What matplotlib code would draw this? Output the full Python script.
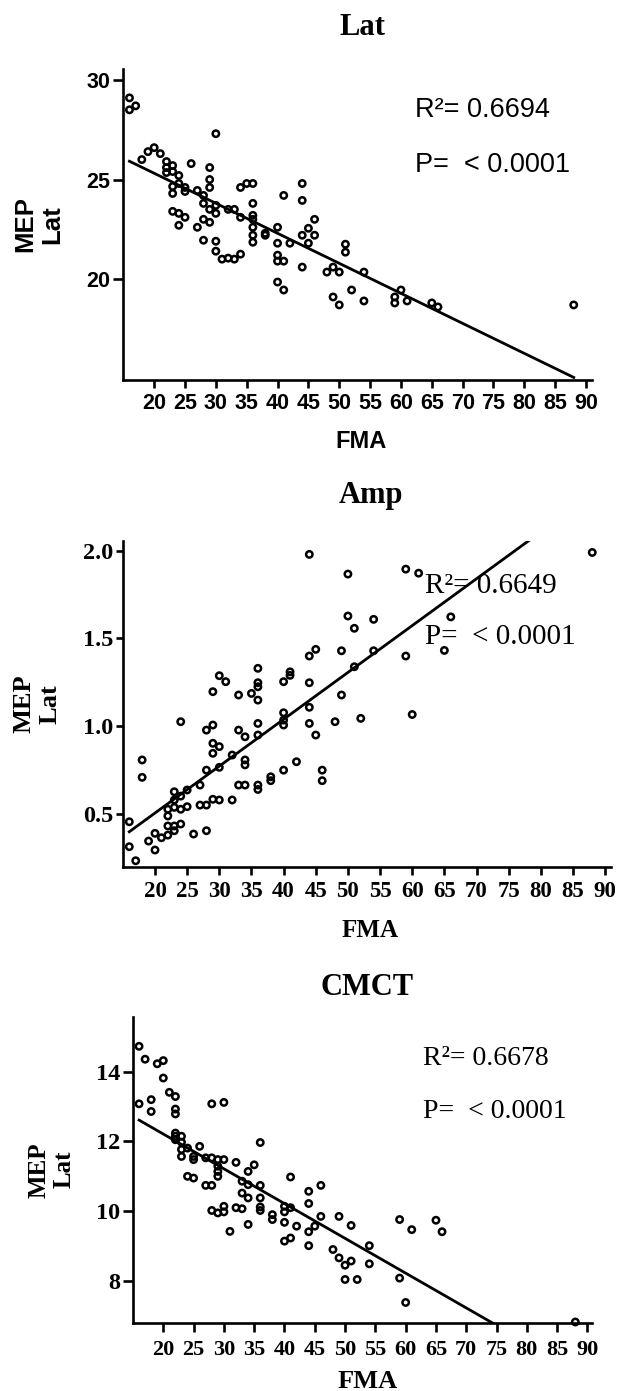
import matplotlib.pyplot as plt
import numpy as np

W, H = 619, 1391

# ---- Lat panel ----
FMA_1 = [16, 16, 17, 18, 19, 20, 21,
         22, 22, 22, 23, 23, 23, 23, 23, 24, 24, 24, 24, 25, 25, 25, 26, 27, 27,
         28, 28, 28, 28, 29, 29, 29, 29, 29, 30, 30, 30, 30, 30, 31, 32, 32, 33, 33,
         34, 34, 34, 35, 36, 36, 36, 36, 36, 36, 36, 38, 38, 40, 40, 40, 40, 40,
         41, 41, 41, 42, 44, 44, 44, 44, 45, 45, 46, 46, 48, 49, 49, 50, 50, 51, 51,
         52, 54, 54, 59, 59, 60, 61, 65, 66, 88]
LAT = [29.1, 28.5, 28.7, 26.0, 26.4, 26.6, 26.3,
       25.9, 25.6, 25.35, 25.7, 25.4, 24.65, 24.3, 23.4, 25.2, 24.8, 23.3, 22.7,
       24.6, 24.4, 23.1, 25.8, 24.45, 22.6,
       24.2, 23.8, 23.0, 21.95, 25.6, 25.0, 24.6, 23.5, 22.85, 27.3, 23.7, 23.3, 21.9, 21.4,
       21.0, 23.5, 21.05, 23.5, 21.0,
       24.6, 23.1, 21.25, 24.8, 24.8, 23.8, 23.2, 23.0, 22.6, 22.2, 21.85, 22.3, 22.2,
       22.6, 21.8, 21.2, 20.9, 19.85,
       24.2, 20.9, 19.45, 21.8, 24.8, 23.95, 22.2, 20.6, 22.55, 21.8, 23.0, 22.2,
       20.35, 20.6, 19.1, 20.35, 18.7, 21.75, 21.35,
       19.45, 20.35, 18.9, 19.1, 18.8, 19.45, 18.9, 18.8, 18.6, 18.7]
LAT_FIT = (-0.1508, 28.33)  # slope, intercept

# ---- Amp panel ----
FMA_2 = [16, 16, 17, 18, 18, 19, 20, 20, 21,
         22, 22, 22, 22, 23, 23, 23, 23, 23, 24, 24, 24, 24, 25, 25, 26, 27, 27,
         28, 28, 28, 28, 29, 29, 29, 29, 29, 30, 30, 30, 30, 31, 32, 32, 33, 33, 33,
         34, 34, 34, 34, 35, 36, 36, 36, 36, 36, 36, 36, 36, 38, 38,
         40, 40, 40, 40, 40, 41, 41, 42, 44, 44, 44, 44, 44, 45, 45, 46, 46, 48,
         49, 49, 50, 50, 51, 51, 52, 54, 54, 59, 59, 60, 61, 65, 66, 88]
AMP = [0.456, 0.314, 0.234, 0.808, 0.709, 0.346, 0.39, 0.295, 0.365,
       0.527, 0.489, 0.432, 0.38, 0.627, 0.58, 0.538, 0.432, 0.405, 1.026, 0.602, 0.527, 0.443,
       0.637, 0.542, 0.386, 0.665, 0.551,
       0.978, 0.75, 0.551, 0.405, 1.197, 1.007, 0.903, 0.846, 0.584, 1.288, 0.884, 0.766, 0.58,
       1.254, 0.836, 0.58, 1.178, 0.978, 0.665,
       0.94, 0.808, 0.78, 0.665, 1.187, 1.33, 1.248, 1.225, 1.149, 1.016, 0.95, 0.665, 0.64,
       0.712, 0.69,
       1.254, 1.077, 1.035, 1.007, 0.75, 1.31, 1.29, 0.798, 1.979, 1.40, 1.248, 1.108, 1.016,
       1.438, 0.95, 0.75, 0.69, 1.026,
       1.43, 1.178, 1.867, 1.628, 1.558, 1.339, 1.045, 1.609, 1.43, 1.895, 1.40, 1.067, 1.872,
       1.432, 1.623, 1.99]
AMP_FIT = (0.02669, -0.028)

# ---- CMCT panel ----
FMA_3 = [16, 16, 17, 18, 18, 19, 20, 20, 21,
         22, 22, 22, 22, 22, 22, 23, 23, 23, 23, 24, 24, 25, 25, 25, 26, 27, 27,
         28, 28, 28, 28, 29, 29, 29, 29, 29, 30, 30, 30, 30, 31, 32, 32, 33, 33, 33,
         34, 34, 34, 34, 35, 36, 36, 36, 36, 36, 38, 38, 40, 40, 40, 40, 41, 41, 41,
         42, 44, 44, 44, 44, 45, 46, 46, 48, 49, 49, 50, 50, 51, 51, 52, 54, 54,
         59, 59, 60, 61, 65, 66, 88]
CMCT = [14.73, 13.08, 14.36, 13.2, 12.86, 14.23, 14.32, 13.82, 13.41,
        13.29, 12.93, 12.79, 12.24, 12.15, 12.05, 12.15, 11.98, 11.77, 11.57, 11.81, 11.0,
        11.57, 11.48, 10.95, 11.86, 11.53, 10.74,
        13.08, 11.53, 10.74, 10.02, 11.48, 11.29, 11.14, 11.0, 9.95, 13.12, 11.48, 10.14, 9.98,
        9.42, 11.4, 10.1, 10.86, 10.52, 10.07,
        11.14, 10.76, 10.38, 9.62, 11.33, 11.97, 10.74, 10.38, 10.12, 10.02, 9.9, 9.76,
        10.14, 9.98, 9.68, 9.14, 10.98, 10.1, 9.23,
        9.57, 10.57, 10.22, 9.41, 9.01, 9.57, 10.74, 9.85, 8.9, 9.85, 8.66, 8.45, 8.04,
        9.59, 8.57, 8.04, 9.01, 8.49,
        9.76, 8.08, 7.38, 9.47, 9.74, 9.41, 6.82]
CMCT_FIT = (-0.0998, 14.21)

XTICKS = list(range(20, 95, 5))


def draw_panel(fig, box, x, y, fit, xlim, ylim, yticks, title, title_pos, stats,
               stats_pos, font, tick_sizes, ylabel_x, xlabel_base, ylabel_size, xlabel_size,
               stats_size, tick_len, xpad, ypad):
    left, right, top, bottom = box
    ax = fig.add_axes([left / W, 1 - bottom / H, (right - left) / W, (bottom - top) / H])

    ax.scatter(x, y, s=21, facecolors="none", edgecolors="black", linewidths=1.8,
               clip_on=False, zorder=3)
    xs = np.array([min(x), max(x)])
    ax.plot(xs, fit[0] * xs + fit[1], color="black", lw=2.0, zorder=2)

    ax.set_xlim(*xlim)
    ax.set_ylim(*ylim)
    ax.set_xticks(XTICKS)
    ax.set_yticks(yticks)
    ax.spines[["top", "right"]].set_visible(False)
    ax.spines[["left", "bottom"]].set_linewidth(1.9)
    ax.tick_params(axis="x", direction="out", length=tick_len[0], width=1.9, pad=xpad,
                   labelsize=tick_sizes[0])
    ax.tick_params(axis="y", direction="out", length=tick_len[1], width=1.9, pad=ypad,
                   labelsize=tick_sizes[1])
    for lab in ax.get_xticklabels() + ax.get_yticklabels():
        lab.set_fontfamily(font)
        lab.set_fontweight("bold")

    fig.text(title_pos[0] / W, 1 - title_pos[1] / H, title, ha="center", va="baseline",
             fontsize=22, fontweight="bold", family="Liberation Serif")
    fig.text(ylabel_x / W, 1 - (top + bottom) / 2 / H, "MEP\nLat", rotation=90,
             ha="center", va="center", multialignment="center", fontsize=ylabel_size,
             fontweight="bold", family=font, linespacing=1.15)
    fig.text(xlabel_base[0] / W, 1 - xlabel_base[1] / H, "FMA", ha="center", va="baseline",
             fontsize=xlabel_size, fontweight="bold", family=font)

    ax.text(stats_pos[0], stats_pos[1], stats[0], transform=ax.transAxes, va="baseline",
            fontsize=stats_size, family=font)
    ax.text(stats_pos[0], stats_pos[2], stats[1], transform=ax.transAxes, va="baseline",
            fontsize=stats_size, family=font)
    return ax


fig = plt.figure(figsize=(W / 100, H / 100), dpi=100)

draw_panel(fig, (123.3, 591.6, 69, 380), FMA_1, LAT, LAT_FIT, (15, 90.9), (14.93, 30.55),
           [20, 25, 30], "Lat", (362, 35), ("R\u00b2= 0.6694", "P=  < 0.0001"),
           (0.623, 0.847, 0.670), "Liberation Sans", (15.5, 15.5), 39, (361, 448),
           18.5, 17, 19.5, (5.5, 7), 4, 2.5)

draw_panel(fig, (123.3, 610.9, 540.7, 866.7), FMA_2, AMP, AMP_FIT, (15.07, 90.9),
           (0.2, 2.057), [0.5, 1.0, 1.5, 2.0], "Amp", (371, 503),
           ("R\u00b2= 0.6649", "P=  < 0.0001"), (0.619, 0.840, 0.683), "Liberation Serif",
           (16.5, 17.5), 37, (370, 937), 19, 18, 21, (6, 5), 4, 2.5)

draw_panel(fig, (133.3, 592.3, 1016.7, 1322.7), FMA_3, CMCT, CMCT_FIT, (15.05, 90.8),
           (6.8, 15.58), [8, 10, 12, 14], "CMCT", (367, 995),
           ("R\u00b2= 0.6678", "P=  < 0.0001"), (0.631, 0.842, 0.668), "Liberation Serif",
           (16, 17.5), 51.5, (368, 1388), 18, 19, 20, (6.5, 7), 6, 2.5)

fig.savefig("out.png", dpi=100)
plt.close(fig)
